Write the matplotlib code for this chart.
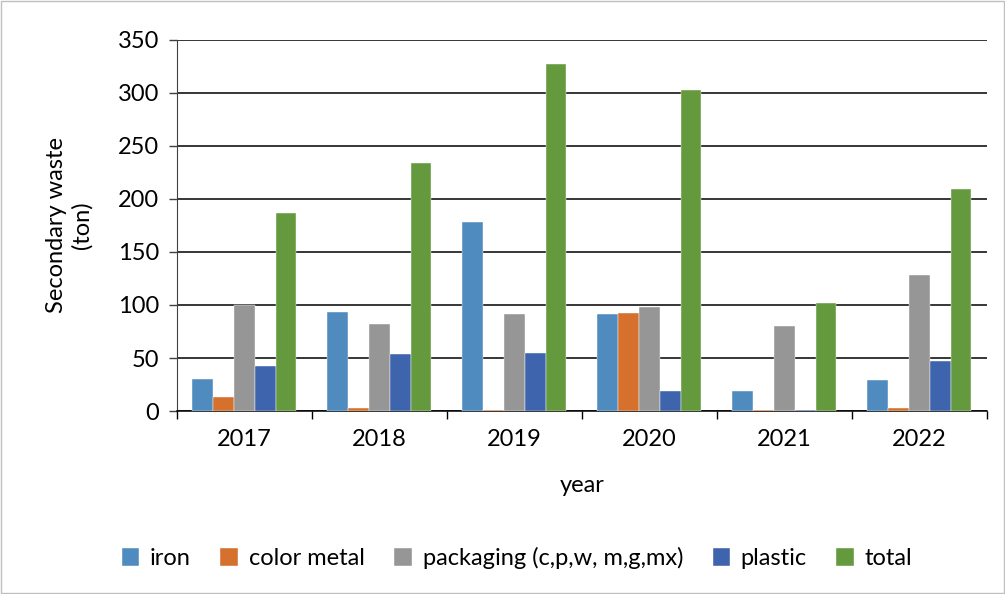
import matplotlib.pyplot as plt
import numpy as np
from matplotlib.patches import Rectangle

plt.rcParams['font.family'] = ['Lato', 'DejaVu Sans']

years = ["2017", "2018", "2019", "2020", "2021", "2022"]
iron = [30, 93, 178, 91.5, 18.5, 29]
color_metal = [13.5, 3, 1.3, 92.5, 1.3, 3]
packaging = [100, 82, 91.5, 98, 80, 128.6]
plastic = [42, 54, 55, 18.5, 1, 47]
total = [187, 234, 327, 303, 102, 209]

series = [
    ("iron", iron, "#508BBF"),
    ("color metal", color_metal, "#D5702D"),
    ("packaging (c,p,w, m,g,mx)", packaging, "#969696"),
    ("plastic", plastic, "#3D64AC"),
    ("total", total, "#64993D"),
]

fig = plt.figure(figsize=(10.05, 5.94), dpi=100)
ax = fig.add_axes([0.176, 0.308, 0.806, 0.625])

x = np.arange(len(years))
width = 1 / 6.5
for i, (name, vals, col) in enumerate(series):
    ax.bar(x + (i - 2) * width, vals, width, color=col, label=name,
           edgecolor="white", linewidth=0.3, zorder=3)

ax.set_ylim(0, 350)
ax.set_yticks(range(0, 351, 50))
ax.set_xlim(-0.5, len(years) - 0.5)
ax.set_xticks(x)
ax.set_xticklabels(years)
ax.set_xticks(np.arange(-0.5, len(years)), minor=True)
ax.tick_params(axis="x", which="major", length=0, labelsize=17, pad=13)
ax.tick_params(axis="x", which="minor", length=6, width=1, color="black")
ax.tick_params(axis="y", length=6, width=1, color="#404040", labelsize=17, pad=7)

ax.grid(axis="y", color="black", linewidth=1.1, zorder=0)
for side in ["top", "right"]:
    ax.spines[side].set_visible(False)
ax.spines["left"].set_color("#404040")
ax.spines["bottom"].set_color("black")
ax.spines["bottom"].set_linewidth(1.1)

ax.set_ylabel("Secondary waste\n(ton)", fontsize=17, labelpad=18)
ax.set_xlabel("year", fontsize=17, labelpad=18)

ax.legend(loc="center", bbox_to_anchor=(0.42, -0.396), ncol=5, frameon=False,
          fontsize=17, handlelength=0.75, handleheight=0.75, handletextpad=0.45,
          columnspacing=1.25)

fig.patches.append(Rectangle((0.001, 0.001), 0.998, 0.998, transform=fig.transFigure,
                             fill=False, edgecolor="#BFBFBF", linewidth=1))

plt.savefig("out.png", dpi=100)
